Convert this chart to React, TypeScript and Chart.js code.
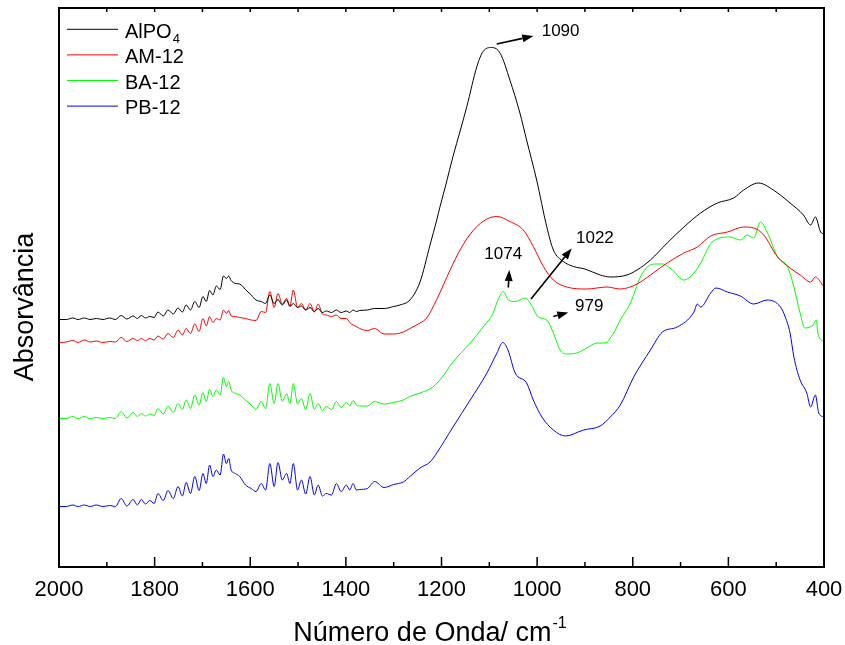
import React, { useEffect, useRef } from 'react';
import { Chart, registerables } from 'chart.js';

Chart.register(...registerables);

const FONT = '"Liberation Sans", Arial, Helvetica, sans-serif';

// ---- Series meta ----
const legendMain = ['AlPO', 'AM-12', 'BA-12', 'PB-12'];
const legendSub = ['4', '', '', ''];
const seriesColors = ['#000000', '#ff0000', '#00ff00', '#0000ff'];

// ---- X axis ----
const xMin = 400;
const xMax = 2000;
const xMajorStep = 200;
const xMinorStep = 100;
const xTitle = 'Número de Onda/ cm';
const xTitleSup = '-1';
const yTitle = 'Absorvância';
const yMin = 0;
const yMax = 1.118;

// ---- Noisy region (2000-1300 cm-1), shared wavenumber grid ----
const wnNoise = [
  2000, 1985, 1971, 1960, 1947, 1935, 1922, 1908, 1894, 1882, 1870, 1858, 1845, 1836, 1828, 1819, 1810, 1801,
  1793, 1782, 1772, 1761, 1751, 1742, 1734, 1725, 1716, 1707, 1699, 1692, 1685, 1678, 1671, 1663, 1656, 1650,
  1645, 1640, 1631, 1622, 1610, 1598, 1588, 1577, 1568, 1559, 1550, 1542, 1533, 1524, 1517, 1510, 1501, 1493,
  1484, 1475, 1466, 1458, 1449, 1441, 1430, 1420, 1410, 1399, 1392, 1385, 1378, 1371, 1355, 1340, 1320, 1300,
];
const alpo4Noise = [
  0.495, 0.495, 0.498, 0.495, 0.498, 0.495, 0.497, 0.495, 0.498, 0.495, 0.503, 0.496, 0.502, 0.497, 0.503, 0.498, 0.501, 0.499,
  0.510, 0.502, 0.514, 0.506, 0.518, 0.510, 0.524, 0.514, 0.531, 0.519, 0.541, 0.531, 0.553, 0.544, 0.562, 0.555, 0.582, 0.577,
  0.582, 0.573, 0.567, 0.566, 0.555, 0.544, 0.534, 0.531, 0.527, 0.544, 0.527, 0.535, 0.524, 0.534, 0.521, 0.527, 0.519, 0.522,
  0.514, 0.519, 0.511, 0.517, 0.509, 0.512, 0.509, 0.514, 0.509, 0.512, 0.509, 0.514, 0.511, 0.513, 0.514, 0.517, 0.517, 0.521,
];
const am12Noise = [
  0.449, 0.450, 0.453, 0.449, 0.454, 0.450, 0.452, 0.449, 0.451, 0.450, 0.459, 0.451, 0.457, 0.453, 0.457, 0.453, 0.457, 0.454,
  0.462, 0.456, 0.467, 0.459, 0.474, 0.464, 0.477, 0.467, 0.486, 0.471, 0.497, 0.482, 0.501, 0.489, 0.497, 0.494, 0.514, 0.507,
  0.513, 0.502, 0.501, 0.499, 0.497, 0.494, 0.493, 0.511, 0.509, 0.551, 0.519, 0.547, 0.526, 0.537, 0.522, 0.554, 0.519, 0.527,
  0.514, 0.527, 0.510, 0.526, 0.506, 0.504, 0.501, 0.504, 0.497, 0.497, 0.489, 0.484, 0.481, 0.477, 0.473, 0.477, 0.466, 0.466,
];
const ba12Noise = [
  0.297, 0.297, 0.301, 0.297, 0.301, 0.297, 0.299, 0.297, 0.299, 0.297, 0.311, 0.298, 0.309, 0.301, 0.307, 0.302, 0.306, 0.303,
  0.317, 0.306, 0.322, 0.309, 0.327, 0.315, 0.334, 0.317, 0.344, 0.324, 0.349, 0.331, 0.355, 0.341, 0.354, 0.344, 0.379, 0.361,
  0.371, 0.354, 0.347, 0.344, 0.334, 0.324, 0.315, 0.331, 0.317, 0.367, 0.327, 0.367, 0.331, 0.347, 0.327, 0.367, 0.326, 0.337,
  0.315, 0.347, 0.315, 0.327, 0.313, 0.321, 0.315, 0.331, 0.319, 0.329, 0.322, 0.333, 0.324, 0.322, 0.322, 0.331, 0.326, 0.329,
];
const pb12Noise = [
  0.121, 0.121, 0.124, 0.121, 0.124, 0.121, 0.124, 0.121, 0.123, 0.121, 0.137, 0.122, 0.135, 0.124, 0.135, 0.126, 0.133, 0.127,
  0.147, 0.133, 0.153, 0.137, 0.161, 0.142, 0.169, 0.147, 0.181, 0.153, 0.187, 0.167, 0.204, 0.181, 0.194, 0.184, 0.226, 0.207,
  0.217, 0.194, 0.187, 0.181, 0.164, 0.157, 0.151, 0.167, 0.154, 0.207, 0.161, 0.209, 0.174, 0.187, 0.167, 0.207, 0.154, 0.174,
  0.146, 0.181, 0.144, 0.164, 0.142, 0.147, 0.144, 0.167, 0.151, 0.164, 0.154, 0.167, 0.154, 0.155, 0.157, 0.171, 0.159, 0.165,
];

// ---- Band region (below 1300 cm-1), per series ----
const alpo4BandWn = [
  1287, 1266, 1245, 1224, 1210, 1203, 1190, 1176, 1161, 1147, 1126, 1113, 1095, 1077, 1057, 1036, 1022, 1001, 980, 966, 945,
  924, 900, 868, 847, 812, 791, 763, 728, 693, 658, 623, 589, 568, 537, 506, 471, 443, 428, 418, 407, 400,
];
const alpo4BandAbs = [
  0.524, 0.534, 0.570, 0.644, 0.694, 0.721, 0.768, 0.821, 0.872, 0.921, 1.001, 1.031, 1.039, 1.027, 0.974, 0.908, 0.854, 0.774,
  0.681, 0.634, 0.611, 0.601, 0.596, 0.584, 0.580, 0.584, 0.594, 0.614, 0.648, 0.680, 0.708, 0.728, 0.738, 0.754, 0.768, 0.754,
  0.728, 0.704, 0.684, 0.700, 0.670, 0.666,
];
const am12BandWn = [
  1280, 1266, 1245, 1231, 1210, 1182, 1160, 1133, 1105, 1084, 1057, 1029, 1008, 987, 966, 938, 896, 854, 826, 791, 763, 728,
  693, 665, 637, 602, 568, 547, 526, 497, 471, 450, 428, 418, 400,
];
const am12BandAbs = [
  0.470, 0.477, 0.488, 0.498, 0.535, 0.594, 0.636, 0.674, 0.696, 0.701, 0.691, 0.674, 0.641, 0.601, 0.574, 0.560, 0.556, 0.560,
  0.556, 0.566, 0.584, 0.608, 0.628, 0.640, 0.662, 0.670, 0.680, 0.678, 0.664, 0.620, 0.598, 0.584, 0.570, 0.580, 0.560,
];
const ba12BandWn = [
  1280, 1266, 1245, 1218, 1200, 1176, 1140, 1113, 1092, 1082, 1071, 1060, 1046, 1025, 1012, 998, 980, 966, 952, 938, 917, 896,
  875, 858, 840, 826, 805, 784, 767, 750, 738, 717, 693, 672, 658, 634, 597, 575, 561, 547, 533, 519, 497, 476, 463, 450, 440,
  423, 416, 413, 400,
];
const ba12BandAbs = [
  0.334, 0.341, 0.348, 0.360, 0.378, 0.410, 0.448, 0.480, 0.508, 0.534, 0.551, 0.534, 0.531, 0.538, 0.524, 0.500, 0.494, 0.468,
  0.434, 0.426, 0.428, 0.438, 0.448, 0.448, 0.468, 0.494, 0.528, 0.580, 0.602, 0.606, 0.606, 0.594, 0.574, 0.588, 0.608, 0.650,
  0.660, 0.654, 0.664, 0.658, 0.690, 0.670, 0.620, 0.600, 0.560, 0.508, 0.478, 0.484, 0.494, 0.468, 0.450,
];
const pb12BandWn = [
  1280, 1266, 1245, 1224, 1210, 1176, 1140, 1105, 1084, 1072, 1061, 1046, 1022, 1008, 990, 966, 941, 903, 868, 847, 826, 798,
  763, 738, 707, 672, 665, 658, 637, 626, 602, 575, 547, 519, 491, 481, 471, 463, 450, 436, 428, 418, 411, 400,
];
const pb12BandAbs = [
  0.170, 0.181, 0.198, 0.210, 0.228, 0.280, 0.334, 0.388, 0.428, 0.449, 0.434, 0.388, 0.368, 0.334, 0.300, 0.274, 0.262, 0.274,
  0.282, 0.300, 0.324, 0.380, 0.434, 0.470, 0.480, 0.510, 0.526, 0.520, 0.548, 0.558, 0.550, 0.542, 0.526, 0.534, 0.520, 0.500,
  0.468, 0.420, 0.374, 0.348, 0.320, 0.344, 0.308, 0.300,
];

// ---- Peak annotations (data coordinates) ----
const peakLabels = ['1090', '1074', '1022', '979'];
const peakLabelWn = [990.4, 1110.5, 918.7, 920.8];
const peakLabelAbs = [1.062, 0.617, 0.649, 0.512];
const arrowFromWn = [1084.5, 1060.3, 1012.8, 966.2];
const arrowFromAbs = [1.046, 0.559, 0.536, 0.501];
const arrowToWn = [1008, 1058.2, 927.7, 934.8];
const arrowToAbs = [1.062, 0.594, 0.637, 0.509];

const toPoints = (xs: number[], ys: number[]) => {
  const n = Math.min(xs.length, ys.length);
  const out: { x: number; y: number }[] = [];
  for (let i = 0; i < n; i++) out.push({ x: xs[i], y: ys[i] });
  return out;
};

const seriesData = [
  [...toPoints(wnNoise, alpo4Noise), ...toPoints(alpo4BandWn, alpo4BandAbs)],
  [...toPoints(wnNoise, am12Noise), ...toPoints(am12BandWn, am12BandAbs)],
  [...toPoints(wnNoise, ba12Noise), ...toPoints(ba12BandWn, ba12BandAbs)],
  [...toPoints(wnNoise, pb12Noise), ...toPoints(pb12BandWn, pb12BandAbs)],
];

const decorPlugin = {
  id: 'decor',
  afterDraw(chart: any) {
    const { ctx, chartArea: a, scales } = chart;
    const xs = scales.x;
    const ys = scales.y;
    ctx.save();

    // frame
    ctx.strokeStyle = '#000';
    ctx.lineWidth = 2;
    ctx.strokeRect(a.left, a.top, a.right - a.left, a.bottom - a.top);

    // ticks (inward)
    ctx.lineWidth = 1.5;
    for (let v = xMax; v >= xMin; v -= xMinorStep) {
      const px = xs.getPixelForValue(v);
      const major = v % xMajorStep === 0;
      ctx.beginPath();
      ctx.moveTo(px, a.bottom);
      ctx.lineTo(px, a.bottom - (major ? 10 : 5));
      ctx.stroke();
      ctx.beginPath();
      ctx.moveTo(px, a.top);
      ctx.lineTo(px, a.top + 4);
      ctx.stroke();
    }

    // legend
    const legX0 = a.left + 8;
    const legX1 = a.left + 59;
    const legTextX = a.left + 66;
    for (let i = 0; i < legendMain.length; i++) {
      const ly = a.top + 21.3 + i * 25.6;
      ctx.strokeStyle = seriesColors[i];
      ctx.lineWidth = 1;
      ctx.beginPath();
      ctx.moveTo(legX0, ly);
      ctx.lineTo(legX1, ly);
      ctx.stroke();
      ctx.fillStyle = '#000';
      ctx.textAlign = 'left';
      ctx.textBaseline = 'alphabetic';
      ctx.font = `20px ${FONT}`;
      ctx.fillText(legendMain[i], legTextX, ly + 8.3);
      if (legendSub[i]) {
        const w = ctx.measureText(legendMain[i]).width;
        ctx.font = `13px ${FONT}`;
        ctx.fillText(legendSub[i], legTextX + w + 1, ly + 13.5);
      }
    }

    // peak annotations
    ctx.fillStyle = '#000';
    ctx.strokeStyle = '#000';
    ctx.font = `17px ${FONT}`;
    ctx.textAlign = 'left';
    ctx.textBaseline = 'alphabetic';
    for (let i = 0; i < peakLabels.length; i++) {
      ctx.fillText(peakLabels[i], xs.getPixelForValue(peakLabelWn[i]), ys.getPixelForValue(peakLabelAbs[i]));
      const x1 = xs.getPixelForValue(arrowFromWn[i]);
      const y1 = ys.getPixelForValue(arrowFromAbs[i]);
      const x2 = xs.getPixelForValue(arrowToWn[i]);
      const y2 = ys.getPixelForValue(arrowToAbs[i]);
      const ang = Math.atan2(y2 - y1, x2 - x1);
      const len = Math.hypot(x2 - x1, y2 - y1);
      const head = Math.min(11, len * 0.75);
      const hw = 4;
      const bx = x2 - head * Math.cos(ang);
      const by = y2 - head * Math.sin(ang);
      ctx.lineWidth = 1.6;
      ctx.beginPath();
      ctx.moveTo(x1, y1);
      ctx.lineTo(bx, by);
      ctx.stroke();
      ctx.beginPath();
      ctx.moveTo(x2, y2);
      ctx.lineTo(bx + hw * Math.sin(ang), by - hw * Math.cos(ang));
      ctx.lineTo(bx - hw * Math.sin(ang), by + hw * Math.cos(ang));
      ctx.closePath();
      ctx.fill();
    }

    // x-axis title with superscript
    ctx.font = `27px ${FONT}`;
    const mw = ctx.measureText(xTitle).width;
    ctx.font = `16px ${FONT}`;
    const sw = ctx.measureText(xTitleSup).width;
    const cx = (a.left + a.right) / 2 - 12;
    const startX = cx - (mw + sw) / 2;
    ctx.font = `27px ${FONT}`;
    ctx.fillText(xTitle, startX, 641);
    ctx.font = `16px ${FONT}`;
    ctx.fillText(xTitleSup, startX + mw + 1, 628);

    // y-axis title
    ctx.save();
    ctx.translate(33, 307);
    ctx.rotate(-Math.PI / 2);
    ctx.font = `27px ${FONT}`;
    ctx.textAlign = 'center';
    ctx.textBaseline = 'alphabetic';
    ctx.fillText(yTitle, 0, 0);
    ctx.restore();

    ctx.restore();
  },
};

export default function App() {
  const canvasRef = useRef<HTMLCanvasElement | null>(null);

  useEffect(() => {
    if (!canvasRef.current) return;
    const chart = new Chart(canvasRef.current, {
      type: 'line',
      data: {
        datasets: seriesData.map((d, i) => ({
          label: legendMain[i] + legendSub[i],
          data: d,
          borderColor: seriesColors[i],
          backgroundColor: seriesColors[i],
          borderWidth: 1,
          pointRadius: 0,
          fill: false,
          cubicInterpolationMode: 'monotone',
        })),
      },
      options: {
        responsive: false,
        animation: false,
        layout: { padding: { left: 59, top: 8, right: 21, bottom: 0 } },
        plugins: {
          legend: { display: false },
          tooltip: { enabled: false },
          title: { display: false },
        },
        scales: {
          x: {
            type: 'linear',
            reverse: true,
            min: xMin,
            max: xMax,
            afterFit: (s: any) => {
              s.height = 78;
              s.paddingLeft = 0;
              s.paddingRight = 0;
            },
            grid: { display: false, drawTicks: false },
            border: { display: false },
            ticks: {
              stepSize: xMajorStep,
              autoSkip: false,
              maxRotation: 0,
              padding: 10,
              color: '#000',
              font: { family: FONT, size: 22 },
              callback: (v: any) => String(v),
            },
          },
          y: { display: false, min: yMin, max: yMax },
        },
      } as any,
      plugins: [decorPlugin],
    });
    return () => chart.destroy();
  }, []);

  return (
    <div style={{ position: 'fixed', left: 0, top: 0, width: 845, height: 645, background: '#fff' }}>
      <canvas ref={canvasRef} width={845} height={645} style={{ display: 'block' }} />
    </div>
  );
}
